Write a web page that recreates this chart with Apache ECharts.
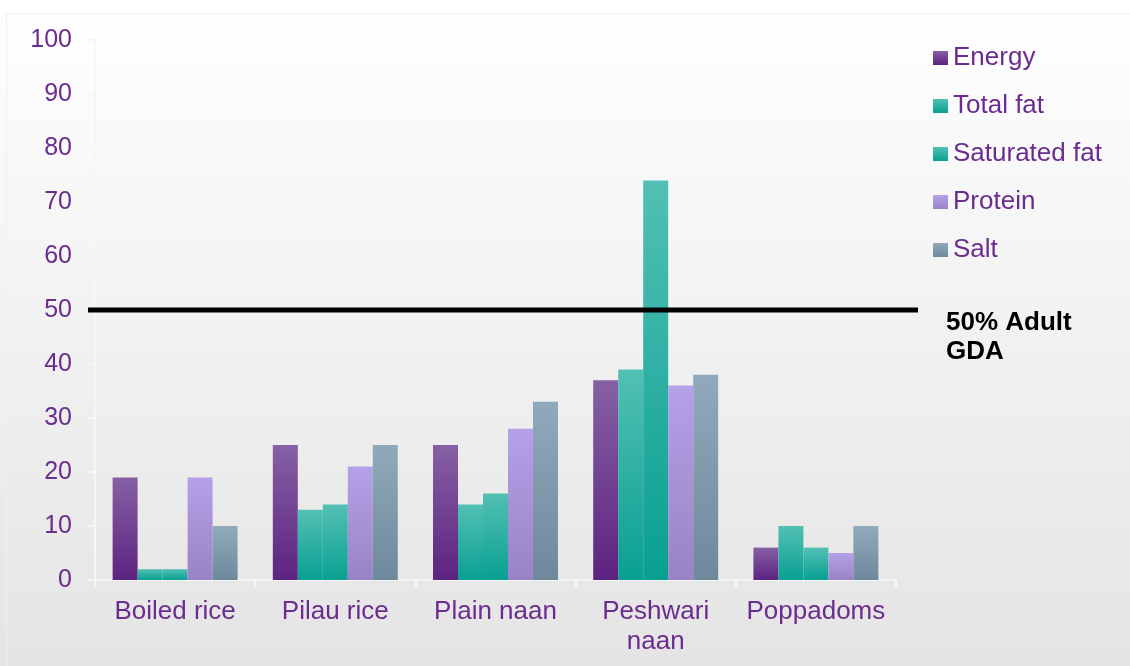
<!DOCTYPE html>
<html>
<head>
<meta charset="utf-8">
<script src="https://cdn.jsdelivr.net/npm/echarts@6/dist/echarts.min.js"></script>
<style>
html,body{margin:0;padding:0;}
#chart{width:1130px;height:666px;}
</style>
</head>
<body>
<div id="chart"></div>
<script>
// ---- data ----
const categories = ['Boiled rice', 'Pilau rice', 'Plain naan', 'Peshwari naan', 'Poppadoms'];
const seriesNames = ['Energy', 'Total fat', 'Saturated fat', 'Protein', 'Salt'];
const energy = [19, 25, 25, 37, 6];
const totalFat = [2, 13, 14, 39, 10];
const saturatedFat = [2, 14, 16, 74, 6];
const protein = [19, 21, 28, 36, 5];
const salt = [10, 25, 33, 38, 10];
const yTicks = [0, 10, 20, 30, 40, 50, 60, 70, 80, 90, 100];
const gdaValue = 50;
const gdaLabel = '50% Adult\nGDA';

// ---- styling ----
const purpleText = '#6b2c8f';
const grads = [
  ['#8660a4', '#5c2380'],
  ['#52c0b3', '#08a092'],
  ['#52c0b3', '#08a092'],
  ['#b4a1e7', '#9a82c8'],
  ['#90aabb', '#6e899b']
];
function grad(c) {
  return new echarts.graphic.LinearGradient(0, 0, 0, 1, [
    {offset: 0, color: c[0]}, {offset: 1, color: c[1]}
  ]);
}
const values = [energy, totalFat, saturatedFat, protein, salt];

const chart = echarts.init(document.getElementById('chart'), null, {renderer: 'canvas'});
const fontFam = '"Liberation Sans", Arial, sans-serif';

const barSeries = seriesNames.map((name, i) => ({
  name: name,
  type: 'bar',
  xAxisIndex: 0,
  yAxisIndex: 0,
  data: values[i],
  barGap: '0%',
  barCategoryGap: '22%',
  itemStyle: {color: grad(grads[i])},
  emphasis: {disabled: true},
  z: 2
}));

const option = {
  animation: false,
  backgroundColor: new echarts.graphic.LinearGradient(0, 0, 0, 1, [
    {offset: 0, color: '#ffffff'}, {offset: 1, color: '#e4e4e4'}
  ]),
  textStyle: {fontFamily: fontFam},
  graphic: [{
    type: 'rect', left: 4, top: 11, shape: {width: 1140, height: 680},
    style: {fill: 'none', stroke: '#f0f0f0', lineWidth: 1}, silent: true, z: 0
  }],
  legend: {
    orient: 'vertical',
    left: 928,
    top: 40,
    itemWidth: 15,
    itemHeight: 14,
    itemGap: 22,
    itemTextGap: 6,
    icon: 'rect',
    data: seriesNames,
    textStyle: {color: purpleText, fontSize: 26, fontFamily: fontFam}
  },
  grid: [
    {left: 95, right: 234, top: 40, bottom: 86, containLabel: false},
    {left: 88, right: 212, top: 40, bottom: 86, containLabel: false}
  ],
  xAxis: [
    {
      type: 'category',
      gridIndex: 0,
      data: categories,
      axisLine: {lineStyle: {color: '#f6f6f6', width: 2}},
      axisTick: {show: true, length: 8, lineStyle: {color: '#f6f6f6', width: 2}},
      axisLabel: {
        interval: 0,
        color: purpleText, fontSize: 26, margin: 17, lineHeight: 30,
        fontFamily: fontFam,
        formatter: v => v === 'Peshwari naan' ? 'Peshwari\nnaan' : v
      }
    },
    {
      type: 'value', gridIndex: 1, min: 0, max: 1, show: false
    }
  ],
  yAxis: [
    {
      type: 'value',
      gridIndex: 0,
      min: yTicks[0],
      max: yTicks[yTicks.length - 1],
      interval: 10,
      axisLine: {show: true, lineStyle: {color: '#f6f6f6', width: 2}},
      axisTick: {show: true, length: 8, lineStyle: {color: '#f6f6f6', width: 2}},
      splitLine: {show: false},
      axisLabel: {color: purpleText, fontSize: 25, margin: 23, fontFamily: fontFam, padding: [4, 0, 0, 0]}
    },
    {
      type: 'value', gridIndex: 1, min: yTicks[0], max: yTicks[yTicks.length - 1], show: false
    }
  ],
  series: barSeries.concat([{
    name: 'GDA',
    type: 'line',
    xAxisIndex: 1,
    yAxisIndex: 1,
    data: [[0, gdaValue], [1, gdaValue]],
    symbol: 'none',
    lineStyle: {color: '#000000', width: 5},
    z: 5,
    silent: true,
    endLabel: {
      show: true,
      formatter: gdaLabel,
      color: '#000000',
      fontWeight: 'bold',
      fontSize: 26,
      lineHeight: 29,
      fontFamily: fontFam,
      distance: 28,
      offset: [0, 27],
      align: 'left'
    }
  }])
};
chart.setOption(option);
</script>
</body>
</html>
